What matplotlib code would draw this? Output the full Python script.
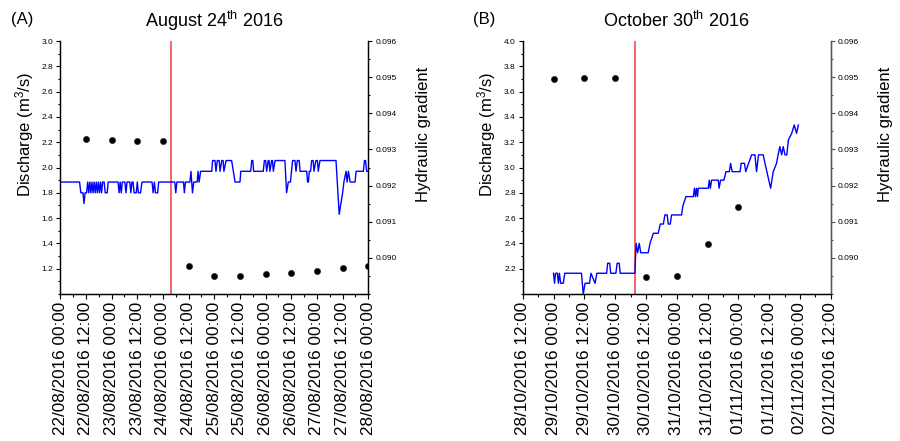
import pandas as pd
import matplotlib
matplotlib.use("Agg")
import matplotlib.pyplot as plt
import matplotlib.dates as mdates
from matplotlib.ticker import MultipleLocator, FixedLocator

plt.rcParams['font.family'] = ['Liberation Sans', 'DejaVu Sans']
plt.rcParams['mathtext.fontset'] = 'custom'
plt.rcParams['mathtext.rm'] = 'Liberation Sans'
plt.rcParams['mathtext.it'] = 'Liberation Sans:italic'

# --- (A) August 24th 2016 ---------------------------------------------------
start_a = pd.Timestamp("2016-08-22 00:00")
end_a = pd.Timestamp("2016-08-28 00:00")
quake_a = pd.Timestamp("2016-08-24 03:36")

# discharge (m3/s), hours after start_a
hours_q_a = [0, 9.0, 9.6, 10.6, 11.1, 11.6, 12.3, 12.8, 13.3, 13.8,
             14.3, 14.8, 15.3, 15.8, 16.3, 16.8, 17.3, 17.8, 18.3, 18.8,
             19.3, 19.8, 20.5, 21.0, 21.9, 22.4, 27.0, 27.5, 28.0, 28.5,
             29.0, 30.2, 30.7, 31.2, 32.5, 33.0, 33.5, 34.0, 34.5, 35.5,
             36.0, 36.5, 37.5, 38.2, 42.9, 43.4, 44.0, 44.5, 45.5, 46.0,
             53.5, 54.0, 54.5, 57.6, 58.0, 58.5, 60.6, 61.1, 61.8, 62.4,
             64.0, 64.4, 64.9, 65.6, 70.8, 71.2, 72.3, 72.8, 73.4, 74.3,
             74.7, 75.5, 76.1, 76.5, 77.5, 80.1, 81.7, 84.0, 84.4, 89.0,
             89.5, 90.0, 90.4, 94.9, 95.4, 96.0, 96.5, 97.2, 97.6, 98.0,
             98.8, 99.2, 99.6, 100.4, 105.0, 105.8, 106.6, 107.6, 108.1, 108.6,
             109.7, 110.2, 110.8, 111.7, 112.1, 115.2, 115.6, 116.0, 116.4, 117.0,
             117.5, 118.2, 118.6, 119.5, 120.2, 120.6, 121.4, 128.9, 130.4, 132.0,
             132.6, 133.6, 134.1, 134.7, 135.5, 137.8, 138.3, 141.7, 142.2, 142.7,
             143.2, 144.0]
discharge_a = [1.885, 1.885, 1.80, 1.80, 1.715, 1.80, 1.80, 1.885, 1.80, 1.885,
               1.80, 1.885, 1.80, 1.885, 1.80, 1.885, 1.80, 1.885, 1.80, 1.885,
               1.80, 1.885, 1.885, 1.80, 1.80, 1.885, 1.885, 1.80, 1.885, 1.80,
               1.885, 1.885, 1.80, 1.885, 1.885, 1.80, 1.885, 1.885, 1.80, 1.80,
               1.885, 1.80, 1.80, 1.885, 1.885, 1.80, 1.885, 1.80, 1.80, 1.885,
               1.885, 1.80, 1.885, 1.885, 1.80, 1.885, 1.885, 1.97, 1.80, 1.885,
               1.885, 1.97, 1.885, 1.97, 1.97, 2.055, 2.055, 1.97, 2.055, 2.055,
               1.97, 2.055, 2.055, 1.97, 2.055, 2.055, 1.885, 1.885, 1.97, 1.97,
               2.055, 2.055, 1.97, 1.97, 2.055, 2.055, 1.97, 2.055, 2.055, 1.97,
               2.055, 2.055, 1.97, 2.055, 2.055, 1.80, 1.885, 1.885, 1.97, 2.055,
               2.055, 1.97, 2.055, 2.055, 1.97, 1.97, 1.885, 1.885, 1.97, 1.97,
               2.055, 2.055, 1.97, 2.055, 2.055, 1.97, 2.055, 2.055, 1.63, 1.80,
               1.885, 1.97, 1.885, 1.97, 1.885, 1.885, 1.97, 1.97, 2.055, 2.055,
               1.97, 1.97]

# hydraulic gradient (dots)
hours_g_a = [12, 24, 36, 48, 60, 72, 84, 96, 108, 120, 132, 144]
gradient_a = [0.09330, 0.09327, 0.09323, 0.09323, 0.08978, 0.08950,
              0.08950, 0.08954, 0.08957, 0.08964, 0.08972, 0.08978]

# --- (B) October 30th 2016 --------------------------------------------------
start_b = pd.Timestamp("2016-10-28 12:00")
end_b = pd.Timestamp("2016-11-02 12:00")
quake_b = pd.Timestamp("2016-10-30 07:40")

hours_q_b = [12.0, 12.4, 12.8, 13.5, 13.9, 14.3, 14.8, 15.8, 16.4, 22.9,
             23.6, 24.3, 26.0, 26.6, 28.2, 28.9, 32.7, 33.1, 33.9, 34.3,
             36.3, 36.8, 37.6, 38.0, 43.7, 44.2, 44.8, 45.4, 46.0, 48.9,
             49.6, 50.9, 52.8, 53.6, 54.8, 55.4, 56.3, 56.7, 57.5, 58.0,
             61.9, 62.4, 63.6, 66.5, 66.9, 67.3, 67.7, 68.1, 68.4, 72.3,
             72.7, 73.1, 73.6, 76.2, 76.5, 77.1, 78.4, 79.2, 80.5, 81.0,
             81.6, 84.7, 85.1, 86.4, 86.9, 88.0, 89.2, 90.5, 91.1, 91.9,
             93.7, 94.4, 96.6, 97.6, 98.9, 99.5, 100.2, 100.9, 101.5, 102.2,
             102.9, 103.5, 104.8, 105.8, 106.7, 107.4]
discharge_b = [2.164, 2.085, 2.164, 2.164, 2.085, 2.164, 2.085, 2.085, 2.164, 2.164,
               2.0, 2.085, 2.085, 2.164, 2.085, 2.164, 2.164, 2.243, 2.243, 2.164,
               2.164, 2.243, 2.243, 2.164, 2.164, 2.40, 2.326, 2.40, 2.326, 2.326,
               2.40, 2.48, 2.48, 2.553, 2.553, 2.625, 2.625, 2.553, 2.553, 2.625,
               2.625, 2.696, 2.77, 2.77, 2.836, 2.77, 2.836, 2.77, 2.836, 2.836,
               2.90, 2.836, 2.90, 2.90, 2.836, 2.90, 2.90, 2.967, 2.967, 3.033,
               2.967, 2.967, 3.033, 3.033, 2.967, 3.033, 3.10, 3.10, 2.967, 3.10,
               3.10, 3.033, 2.836, 2.967, 3.033, 3.10, 3.165, 3.10, 3.165, 3.10,
               3.10, 3.217, 3.27, 3.336, 3.27, 3.336]

hours_g_b = [12, 24, 36, 48, 60, 72, 84]
gradient_b = [0.09494, 0.09498, 0.09498, 0.08947, 0.08951, 0.09038, 0.09142]

panels = [
    dict(tag="(A)", title="August 24$^{\\rm th}$ 2016", start=start_a, end=end_a,
         quake=quake_a, hq=hours_q_a, q=discharge_a, hg=hours_g_a, g=gradient_a,
         ylim=(1.0, 3.0), left=60.3 / 900, rcolor="black"),
    dict(tag="(B)", title="October 30$^{\\rm th}$ 2016", start=start_b, end=end_b,
         quake=quake_b, hq=hours_q_b, q=discharge_b, hg=hours_g_b, g=gradient_b,
         ylim=(2.0, 4.0), left=522.7 / 900, rcolor="#555555"),
]

fig = plt.figure(figsize=(9, 4.41), dpi=100)
W = 308 / 900
B = (441 - 294) / 441
H = 253 / 441

for p in panels:
    ax = fig.add_axes([p["left"], B, W, H])
    ax2 = ax.twinx()

    t_q = p["start"] + pd.to_timedelta(p["hq"], unit="h")
    t_g = p["start"] + pd.to_timedelta(p["hg"], unit="h")

    ax.plot(t_q, p["q"], color="#0000ff", lw=1.0, zorder=3)
    ax.axvline(p["quake"], color="#f05a5a", lw=1.3, zorder=2)
    ax2.scatter(t_g, p["g"], s=20, color="black", edgecolors="#222222",
                linewidths=0.4, zorder=4)

    ax.set_xlim(p["start"], p["end"])
    y0, y1 = p["ylim"]
    ax.set_ylim(y0, y1)
    ax.yaxis.set_major_locator(FixedLocator([round(y0 + 0.2 * k, 1) for k in range(1, 11)]))
    ax.yaxis.set_minor_locator(MultipleLocator(0.1))
    ax2.set_ylim(0.089, 0.096)
    ax2.yaxis.set_major_locator(FixedLocator([0.090, 0.091, 0.092, 0.093, 0.094, 0.095, 0.096]))
    ax2.yaxis.set_minor_locator(MultipleLocator(0.0005))
    ax2.yaxis.set_major_formatter(matplotlib.ticker.FormatStrFormatter("%.3f"))

    ax.xaxis.set_major_locator(mdates.HourLocator(byhour=[0, 12]))
    ax.xaxis.set_minor_locator(mdates.HourLocator(byhour=[6, 18]))
    ax.xaxis.set_major_formatter(mdates.DateFormatter("%d/%m/%Y %H:%M"))
    for lab in ax.get_xticklabels():
        lab.set_rotation(90)
    ax.tick_params(axis="x", which="major", labelsize=12.3, length=3.5, width=0.8, pad=2)
    ax.tick_params(axis="x", which="minor", length=2, width=0.8)
    ax.tick_params(axis="y", which="major", labelsize=6, length=3, width=0.8, pad=2)
    ax.tick_params(axis="y", which="minor", length=1.6, width=0.8)
    ax2.tick_params(axis="y", which="major", labelsize=6, length=3, width=0.8, pad=2,
                    color=p["rcolor"])
    ax2.tick_params(axis="y", which="minor", length=1.6, width=0.8, color=p["rcolor"])

    for a in (ax, ax2):
        a.spines["top"].set_visible(False)
        for s in a.spines.values():
            s.set_linewidth(0.9)
    ax2.spines["right"].set_color(p["rcolor"])

    ax.set_ylabel("Discharge (m$^3$/s)", fontsize=12, labelpad=4)
    ax2.set_ylabel("Hydraulic gradient", fontsize=12, labelpad=14)
    # labels sit a bit above the axis centre, as in the original
    ax.yaxis.label.set_y(0.63)
    ax2.yaxis.label.set_y(0.63)
    ax.set_title(p["title"], fontsize=13, pad=10)
    fig.text(p["left"] - 0.055, 0.955, p["tag"], fontsize=12, ha="left", va="center")

fig.savefig("out.png", dpi=100)
